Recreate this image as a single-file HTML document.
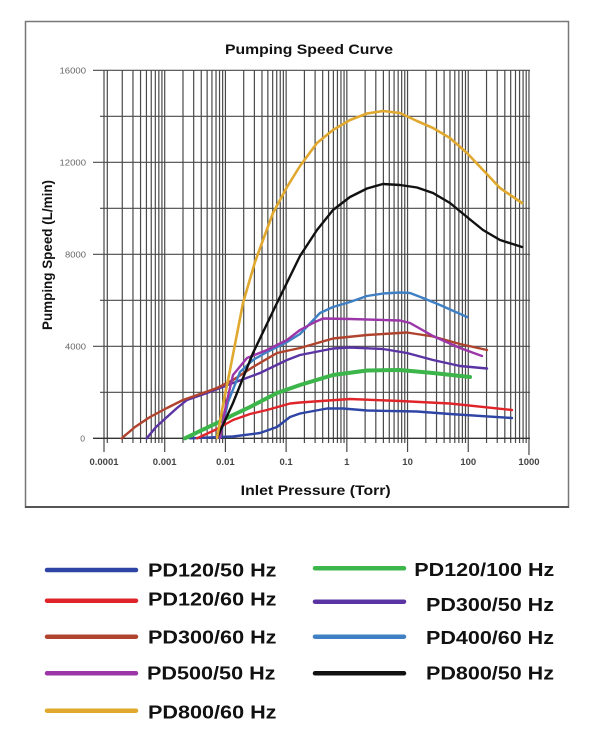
<!DOCTYPE html>
<html><head><meta charset="utf-8"><style>
html,body{margin:0;padding:0;background:#fff;}
svg{display:block;}
text{font-family:"Liberation Sans",Arial,sans-serif;}
</style></head><body>
<svg width="600" height="743" viewBox="0 0 600 743" xmlns="http://www.w3.org/2000/svg">
<rect x="0" y="0" width="600" height="743" fill="#fff"/>
<rect x="25.5" y="21.5" width="543" height="485.5" fill="none" stroke="#777" stroke-width="1.5"/>
<line x1="25" y1="507" x2="569" y2="507" stroke="#555" stroke-width="2"/>
<text x="225" y="54" font-size="14" font-weight="bold" fill="#111" textLength="168" lengthAdjust="spacingAndGlyphs">Pumping Speed Curve</text>

<g stroke="#4a4a4a" stroke-width="1.2" fill="none">
<path d="M104 70V452 M107.3 70V443 M122.28 70V443 M132.97 70V443 M140.55 70V443 M146.43 70V443 M151.24 70V443 M155.31 70V443 M158.83 70V443 M161.93 70V443
M164.71 70V452 M182.99 70V443 M193.68 70V443 M201.26 70V443 M207.14 70V443 M211.95 70V443 M216.02 70V443 M219.54 70V443 M222.64 70V443
M225.42 70V452 M243.70 70V443 M254.39 70V443 M261.97 70V443 M267.85 70V443 M272.66 70V443 M276.73 70V443 M280.25 70V443 M283.35 70V443
M286.13 70V452 M304.41 70V443 M315.10 70V443 M322.68 70V443 M328.56 70V443 M333.37 70V443 M337.44 70V443 M340.96 70V443 M344.06 70V443
M346.84 70V452 M365.12 70V443 M375.81 70V443 M383.39 70V443 M389.27 70V443 M394.08 70V443 M398.15 70V443 M401.67 70V443 M404.77 70V443
M407.55 70V452 M425.83 70V443 M436.52 70V443 M444.10 70V443 M449.98 70V443 M454.79 70V443 M458.86 70V443 M462.38 70V443 M465.48 70V443
M468.26 70V452 M486.54 70V443 M497.23 70V443 M504.81 70V443 M510.69 70V443 M515.50 70V443 M519.57 70V443 M523.09 70V443 M526.19 70V443
M528.97 70V455"/>
<path d="M93 70.3H530 M100 116.3H530 M93 162.3H530 M100 208.3H530 M93 254.3H530 M100 300.3H530 M93 346.3H530 M100 392.3H530" />
<path d="M93 438.3H530" stroke="#333" stroke-width="1.4"/>
</g>

<g font-size="8.6" fill="#666" text-anchor="end">
<text x="86" y="73.3" textLength="26.5" lengthAdjust="spacingAndGlyphs">16000</text>
<text x="86" y="165.3" textLength="26.5" lengthAdjust="spacingAndGlyphs">12000</text>
<text x="86" y="257.3" textLength="21" lengthAdjust="spacingAndGlyphs">8000</text>
<text x="86" y="349.3" textLength="21" lengthAdjust="spacingAndGlyphs">4000</text>
<text x="85" y="441.3">0</text>
</g>
<g font-size="9.5" font-weight="bold" fill="#444" text-anchor="middle">
<text x="104" y="465">0.0001</text>
<text x="164.7" y="465">0.001</text>
<text x="225.4" y="465">0.01</text>
<text x="286.1" y="465">0.1</text>
<text x="346.8" y="465">1</text>
<text x="407.6" y="465">10</text>
<text x="468.3" y="465">100</text>
<text x="529" y="465">1000</text>
</g>
<text x="240.7" y="495" font-size="14" font-weight="bold" fill="#111" textLength="150" lengthAdjust="spacingAndGlyphs">Inlet Pressure (Torr)</text>
<text transform="translate(52,255) rotate(-90)" x="0" y="0" text-anchor="middle" font-size="13.5" font-weight="bold" fill="#111" textLength="150" lengthAdjust="spacingAndGlyphs">Pumping Speed (L/min)</text>

<g fill="none" stroke-linejoin="round" stroke-linecap="round" stroke-width="2.4">
<polyline stroke="#2f45a5" points="190,438.3 233,436.5 260,433 277,427 290,417 300,413.5 327,408.5 343,408.5 367,410.5 417,411.5 450,414 512,418"/>
<polyline stroke="#e0252a" points="197,438.3 215,430 233,420 250,414 267,410 290,403.5 300,402.5 350,399 400,401 450,403.5 512,410"/>
<polyline stroke="#3cb54a" stroke-width="4" points="185,438.3 200,431 217,423 233,415 250,407 277,393 300,385 333,375 367,370.5 400,370 433,373 470,377"/>
<polyline stroke="#5b34a3" points="146.7,438.3 156,427 167,417 177,408 187,400 207,393 233,383 260,373 287,360 300,355 333,348.5 350,347.5 383,349 407,353 433,360 460,366 487,368.5"/>
<polyline stroke="#b0432e" points="121.7,438.3 135,427 150,417 167,408 183,400 200,394 217,388 233,380 253,367 277,353 300,348 333,338.5 367,335 407,332.5 433,336.5 460,344 487,350"/>
<polyline stroke="#3f80c4" points="220,438 228,402 240,372 253,360 267,352 287,342 300,334 320,313 333,307 350,302 367,296 383,293.5 400,292.5 410,293 423,298 440,305 467,317"/>
<polyline stroke="#9b35a8" points="220,438 226,405 233,375 247,358 267,350 287,340 300,330 315,322 323,318.5 350,319 400,320.5 410,323 433,336 460,348 482,356"/>
<polyline stroke="#111" points="217,438 233,403 253,353 277,303 300,256 317,230 333,210 350,197 367,188.5 383,184 400,185 417,187.5 433,193 450,203 467,217 483,230 500,240 522,247"/>
<polyline stroke="#e0a82e" stroke-width="2.6" points="217,438 223,405 230,370 243,303 255,262 263,240 273,213 287,187 300,166 317,143 333,130 350,120 367,113.5 383,111 400,113 417,121 433,128 450,138 467,153 483,170 500,188 522,203"/>
</g>

<g stroke-width="4.5" stroke-linecap="round">
<line x1="47" y1="570" x2="136" y2="570" stroke="#2f45a5"/>
<line x1="47" y1="600.7" x2="136" y2="600.7" stroke="#e0252a"/>
<line x1="47" y1="636.7" x2="136" y2="636.7" stroke="#b0432e"/>
<line x1="47" y1="673.3" x2="136" y2="673.3" stroke="#9b35a8"/>
<line x1="47" y1="710.7" x2="136" y2="710.7" stroke="#e0a82e"/>
<line x1="315" y1="568.3" x2="404" y2="568.3" stroke="#3cb54a"/>
<line x1="315" y1="601.7" x2="404" y2="601.7" stroke="#5b34a3"/>
<line x1="315" y1="636.7" x2="404" y2="636.7" stroke="#3f80c4"/>
<line x1="315" y1="673.3" x2="404" y2="673.3" stroke="#111"/>
</g>
<g font-size="18.5" font-weight="bold" fill="#111">
<text x="148" y="576.7" textLength="128.5" lengthAdjust="spacingAndGlyphs">PD120/50 Hz</text>
<text x="148" y="605.7" textLength="128.5" lengthAdjust="spacingAndGlyphs">PD120/60 Hz</text>
<text x="148" y="643.4" textLength="128.5" lengthAdjust="spacingAndGlyphs">PD300/60 Hz</text>
<text x="147" y="679.7" textLength="128.5" lengthAdjust="spacingAndGlyphs">PD500/50 Hz</text>
<text x="148" y="718.4" textLength="128.5" lengthAdjust="spacingAndGlyphs">PD800/60 Hz</text>
<text x="414.3" y="576" textLength="140" lengthAdjust="spacingAndGlyphs">PD120/100 Hz</text>
<text x="426" y="611" textLength="128" lengthAdjust="spacingAndGlyphs">PD300/50 Hz</text>
<text x="426" y="644" textLength="128" lengthAdjust="spacingAndGlyphs">PD400/60 Hz</text>
<text x="426" y="679.4" textLength="128" lengthAdjust="spacingAndGlyphs">PD800/50 Hz</text>
</g>
</svg>
</body></html>
